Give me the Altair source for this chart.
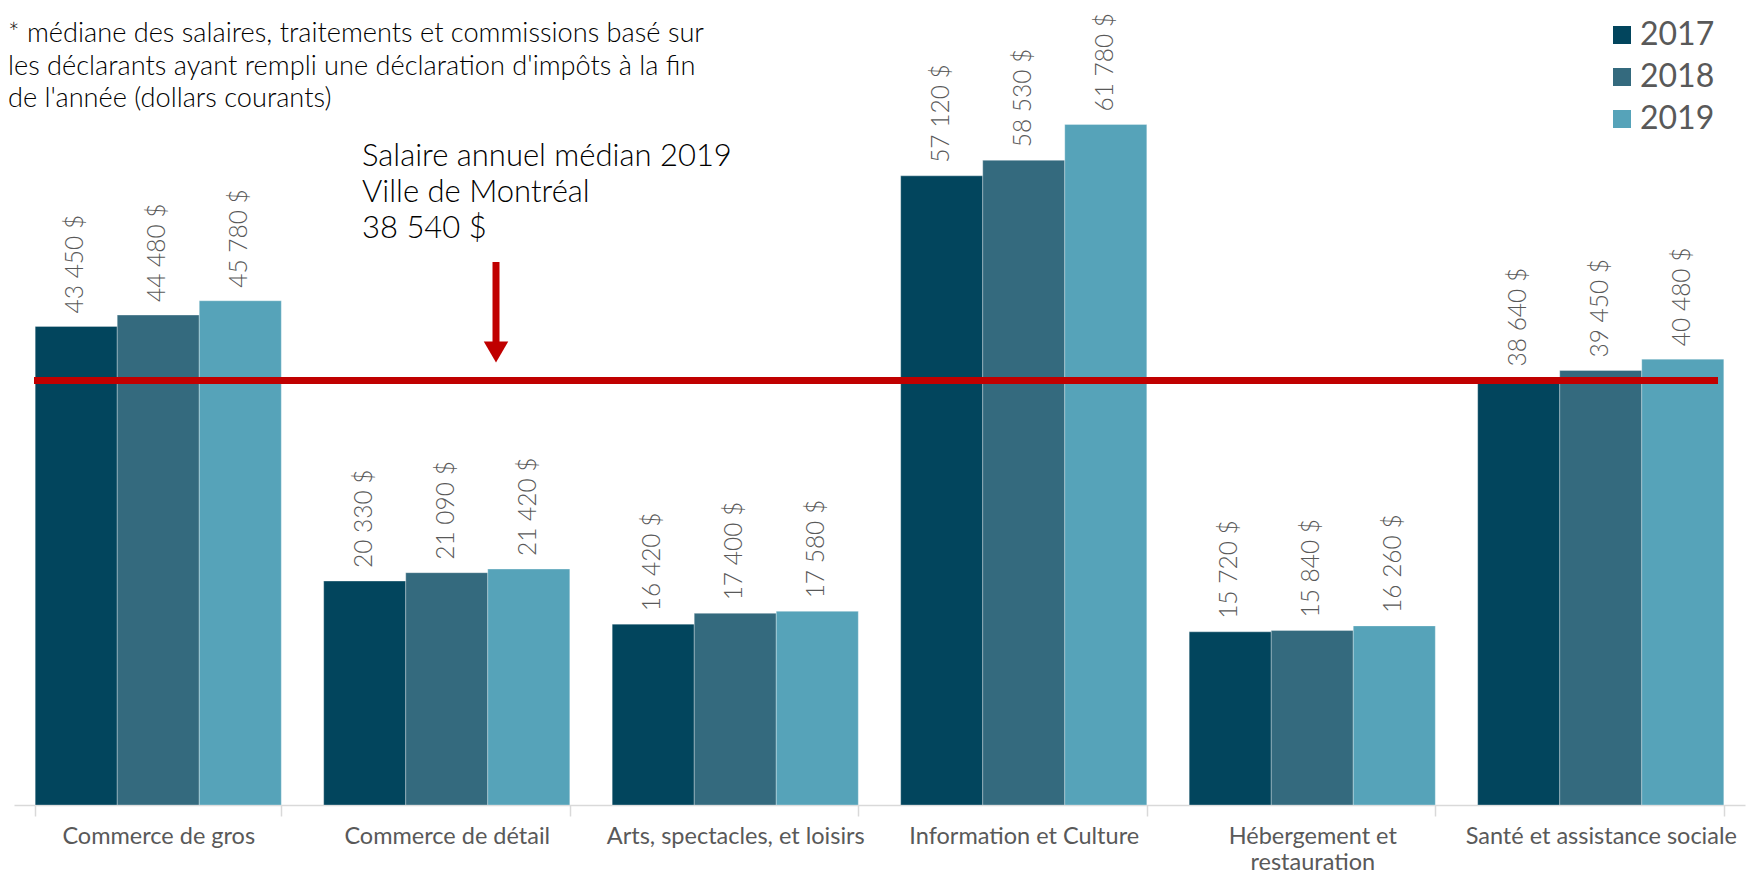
import altair as alt
import pandas as pd

categories = [
    "Commerce de gros",
    "Commerce de détail",
    "Arts, spectacles, et loisirs",
    "Information et Culture",
    "Hébergement et restauration",
    "Santé et assistance sociale",
]
years = ["2017", "2018", "2019"]
v2017 = [43450, 20330, 16420, 57120, 15720, 38640]
v2018 = [44480, 21090, 17400, 58530, 15840, 39450]
v2019 = [45780, 21420, 17580, 61780, 16260, 40480]
colors = ["#02455d", "#346a7e", "#56a3b9"]

median_value = 38540
footnote_lines = [
    "* médiane des salaires, traitements et commissions basé sur",
    "les déclarants ayant rempli une déclaration d'impôts à la fin",
    "de l'année (dollars courants)",
]
note_lines = ["Salaire annuel médian 2019", "Ville de Montréal", "38 540 $"]

rows = []
for yr, vals in zip(years, [v2017, v2018, v2019]):
    for c, v in zip(categories, vals):
        rows.append({"cat": c, "year": yr, "value": v,
                     "label": f"{v:,}".replace(",", " ") + " $"})
df = pd.DataFrame(rows)

FONT = "Lato"
W, H = 1731, 771

xenc = alt.X("cat:N", sort=categories, title=None,
             scale=alt.Scale(paddingInner=0.147, paddingOuter=0.0735),
             axis=alt.Axis(labelAngle=0, labelFontSize=23.5, labelColor="#595959",
                           labelFont=FONT, labelPadding=8, labelLineHeight=26,
                           labelLimit=0,
                           labelExpr="datum.label == 'Hébergement et restauration' ? ['Hébergement et', 'restauration'] : datum.label",
                           domainColor="#D9D9D9", domainWidth=1.5, tickColor="#D9D9D9",
                           tickWidth=1.5, tickSize=11, tickBand="extent"))
yenc = alt.Y("value:Q", scale=alt.Scale(domain=[0, 70000], nice=False), axis=None)

base = alt.Chart(df)
bars = base.mark_bar(stroke="#ffffff", strokeWidth=0.6, strokeOpacity=0.5).encode(
    x=xenc,
    xOffset=alt.XOffset("year:N", sort=years),
    y=yenc,
    color=alt.Color("year:N", sort=years,
                    scale=alt.Scale(domain=years, range=colors),
                    legend=alt.Legend(title=None, orient="none", legendX=1592, legendY=-15,
                                      symbolType="square", symbolSize=324,
                                      symbolStrokeWidth=0, labelFontSize=32,
                                      labelFont=FONT, labelColor="#595959",
                                      labelOffset=2, rowPadding=10, padding=0)),
)
labels = base.mark_text(angle=270, align="left", baseline="middle", dx=13,
                        fontSize=24.5, font=FONT, fontWeight=300, color="#595959").encode(
    x=xenc,
    xOffset=alt.XOffset("year:N", sort=years),
    y=yenc,
    text="label:N",
)

med_df = pd.DataFrame({"value": [median_value]})
median_rule = alt.Chart(med_df).mark_rule(color="#C00000", strokeWidth=7).encode(
    y=alt.Y("value:Q", scale=alt.Scale(domain=[0, 70000], nice=False), axis=None),
    x=alt.value(20), x2=alt.value(1704),
)

one = pd.DataFrame({"a": [0]})
arrow_stem = alt.Chart(one).mark_rule(color="#C00000", strokeWidth=7).encode(
    x=alt.value(482), y=alt.value(228), y2=alt.value(312),
)
arrow_head = alt.Chart(one).mark_point(shape="triangle-down", filled=True,
                                       color="#C00000", size=600, opacity=1).encode(
    x=alt.value(482), y=alt.value(318),
)

foot_df = pd.DataFrame({"t": footnote_lines, "i": [0, 1, 2]})
footnote = alt.Chart(foot_df).mark_text(align="left", baseline="middle", fontSize=27.2,
                                        font=FONT, fontWeight=300, color="#000000").encode(
    x=alt.value(-6),
    y=alt.Y("i:Q", scale=alt.Scale(domain=[0, 1], range=[0, 32.5]), axis=None),
    text="t:N",
)
note_df = pd.DataFrame({"t": note_lines, "i": [0, 1, 2]})
note = alt.Chart(note_df).mark_text(align="left", baseline="middle", fontSize=31,
                                    font=FONT, fontWeight=300, color="#000000").encode(
    x=alt.value(348),
    y=alt.Y("i:Q", scale=alt.Scale(domain=[0, 1], range=[123, 159]), axis=None),
    text="t:N",
)

chart = alt.layer(bars, labels, median_rule, arrow_stem, arrow_head, footnote, note).resolve_scale(
    y="independent"
).properties(
    width=W, height=H,
    autosize=alt.AutoSizeParams(type="none"),
    padding={"left": 6, "top": 26, "right": 6, "bottom": 69},
).configure_view(stroke=None)

chart.save("out.html", embed_options={"renderer": "svg", "actions": False})
